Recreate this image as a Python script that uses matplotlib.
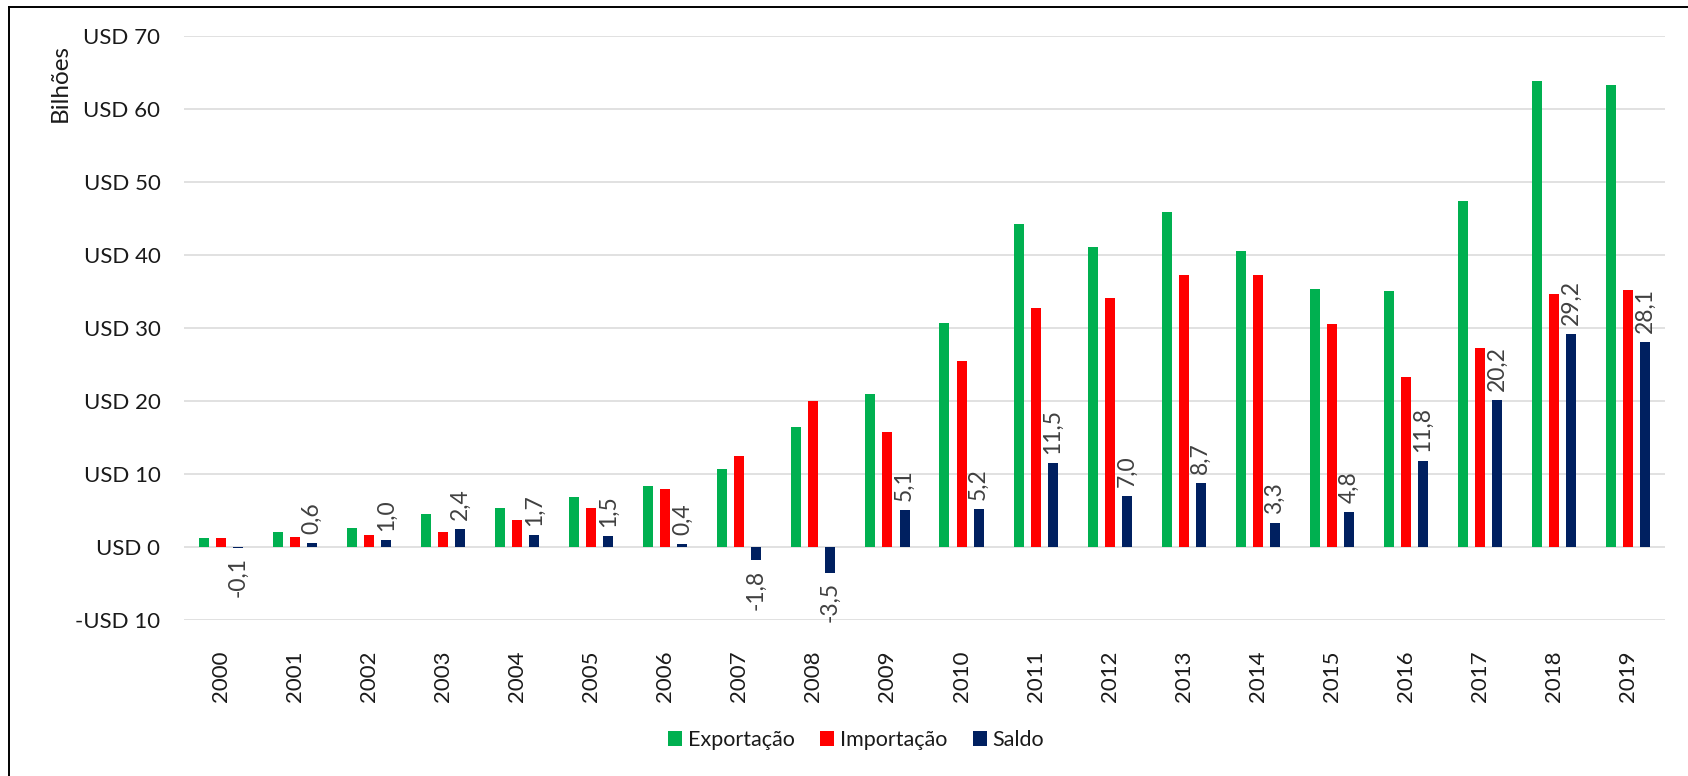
import matplotlib
matplotlib.use("Agg")
import matplotlib.pyplot as plt
from matplotlib.lines import Line2D
from matplotlib.patches import Patch
import numpy as np

years = [str(y) for y in range(2000, 2020)]
exportacao = [1.2, 2.0, 2.6, 4.5, 5.4, 6.8, 8.4, 10.7, 16.5, 20.9,
              30.7, 44.2, 41.1, 45.9, 40.5, 35.4, 35.1, 47.4, 63.9, 63.35]
importacao = [1.3, 1.4, 1.6, 2.1, 3.7, 5.3, 8.0, 12.5, 20.0, 15.8,
              25.5, 32.7, 34.1, 37.2, 37.2, 30.6, 23.3, 27.2, 34.7, 35.25]
saldo = [-0.1, 0.6, 1.0, 2.4, 1.7, 1.5, 0.4, -1.8, -3.5, 5.1,
         5.2, 11.5, 7.0, 8.7, 3.3, 4.8, 11.8, 20.2, 29.2, 28.1]
yticks = [-10, 0, 10, 20, 30, 40, 50, 60, 70]

FONT = "Lato"
plt.rcParams["font.family"] = [FONT, "DejaVu Sans"]

C_EXP = "#00b050"
C_IMP = "#ff0000"
C_SAL = "#002060"
TXT = "#1a1a1a"

W, H = 1688, 776
fig = plt.figure(figsize=(W / 100, H / 100), dpi=100)
ax = fig.add_axes([184 / W, 1 - 620 / H, (1665 - 184) / W, (620 - 36) / H])

x = np.arange(len(years))
bw = 0.135
off = 0.23
ax.bar(x - off, exportacao, bw, color=C_EXP, zorder=3)
ax.bar(x, importacao, bw, color=C_IMP, zorder=3)
ax.bar(x + off, saldo, bw, color=C_SAL, zorder=3)

for xi, v in zip(x + off, saldo):
    lbl = f"{v:.1f}".replace(".", ",")
    if v >= 0:
        ax.annotate(lbl, (xi, v), xytext=(0, 6.5), textcoords="offset points",
                    rotation=90, ha="center", va="bottom", fontsize=16.5,
                    color="#404040", zorder=4)
    else:
        ax.annotate(lbl, (xi, v), xytext=(0, -7), textcoords="offset points",
                    rotation=90, ha="center", va="top", fontsize=16.5,
                    color="#404040", zorder=4)

ax.set_xlim(-0.5, len(years) - 0.5)
ax.set_ylim(-10, 70)
ax.set_yticks(yticks)
ax.set_yticklabels([("-USD " + str(-t)) if t < 0 else f"USD {t}" for t in yticks])
ax.set_xticks(x)
ax.set_xticklabels(years, rotation=90)
ax.tick_params(axis="both", length=0, labelsize=16, labelcolor=TXT)
ax.tick_params(axis="y", pad=17)
ax.tick_params(axis="x", pad=22)
ax.grid(axis="y", color="#d9d9d9", linewidth=1.1, zorder=0)
for s in ax.spines.values():
    s.set_visible(False)

fig.text(60 / W, 1 - 83.5 / H, "Bilhões", rotation=90, ha="center", va="center",
         fontsize=17.5, color=TXT)

handles = [Patch(facecolor=C_EXP, label="Exportação"),
           Patch(facecolor=C_IMP, label="Importação"),
           Patch(facecolor=C_SAL, label="Saldo")]
fig.legend(handles=handles, loc="center", bbox_to_anchor=(856 / W, 1 - 740 / H),
           ncol=3, frameon=False, fontsize=15.5, handlelength=0.65,
           handleheight=0.65, handletextpad=0.25, columnspacing=1.2,
           labelcolor=TXT)

# outer frame of the chart
fig.add_artist(Line2D([9 / W, 9 / W], [0, 1 - 6.5 / H], transform=fig.transFigure,
                      color="black", linewidth=1.4))
fig.add_artist(Line2D([9 / W, 1], [1 - 6.5 / H, 1 - 6.5 / H], transform=fig.transFigure,
                      color="black", linewidth=1.4))

fig.savefig("out.png", dpi=100, facecolor="white")
